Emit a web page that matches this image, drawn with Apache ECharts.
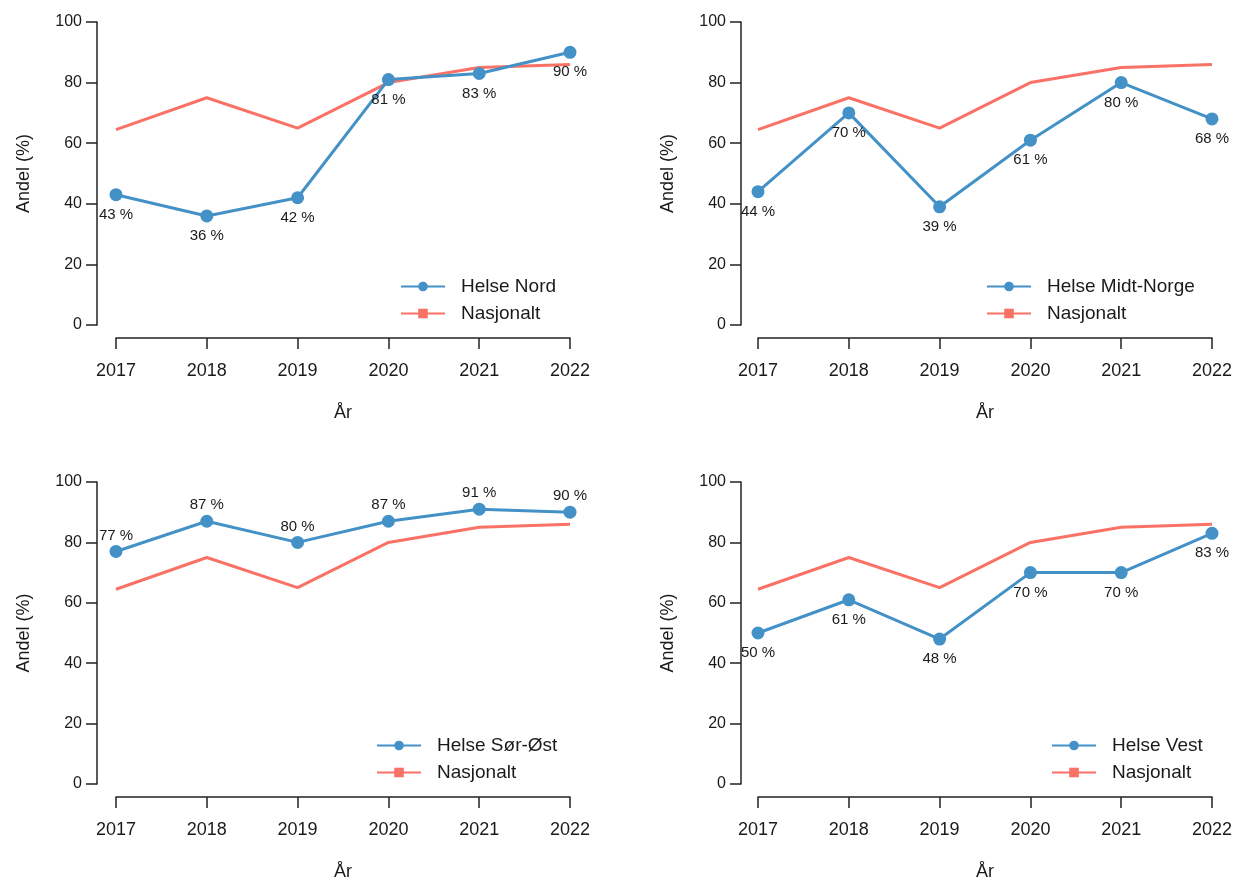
<!DOCTYPE html>
<html>
<head>
<meta charset="utf-8">
<script src="https://cdn.jsdelivr.net/npm/echarts@6/dist/echarts.min.js"></script>
<style>
html,body{margin:0;padding:0;background:#fff;}
#chart{width:1240px;height:882px;}
</style>
</head>
<body>
<div id="chart"></div>
<script>
const years = ['2017', '2018', '2019', '2020', '2021', '2022'];
const nasjonalt = [64.5, 75, 65, 80, 85, 86];
const helseNord = [43, 36, 42, 81, 83, 90];
const helseMidtNorge = [44, 70, 39, 61, 80, 68];
const helseSorOst = [77, 87, 80, 87, 91, 90];
const helseVest = [50, 61, 48, 70, 70, 83];
const regionNames = ['Helse Nord', 'Helse Midt-Norge', 'Helse Sør-Øst', 'Helse Vest'];
const regionValues = [helseNord, helseMidtNorge, helseSorOst, helseVest];
const labelPositions = ['bottom', 'bottom', 'top', 'bottom'];
const yTicks = { min: 0, max: 100, interval: 20 };

const BLUE = '#4391C7';
const RED = '#FA7166';
const FONT = "'Liberation Sans', Arial, sans-serif";
const TXT = '#1a1a1a';

const panels = [
  { left: 116, top: 22, yLeft: 97, legendLeft: 400, legendTop: 277 },
  { left: 758, top: 22, yLeft: 741, legendLeft: 986, legendTop: 277 },
  { left: 116, top: 482, yLeft: 97, legendLeft: 376, legendTop: 736 },
  { left: 758, top: 482, yLeft: 741, legendLeft: 1051, legendTop: 736 }
];

const grid = [], xAxis = [], yAxis = [], series = [], legend = [];
panels.forEach((p, i) => {
  grid.push({ left: p.left, top: p.top, width: 454, height: 303 });
  xAxis.push({
    type: 'category', gridIndex: i, data: years, boundaryGap: false,
    offset: 13,
    axisLine: { onZero: false, lineStyle: { color: '#222', width: 1.5 } },
    axisTick: { length: 11, lineStyle: { color: '#222', width: 1.5 } },
    axisLabel: { color: TXT, fontSize: 18, fontFamily: FONT, margin: 24 },
    name: 'År', nameLocation: 'middle', nameGap: 66,
    nameTextStyle: { color: TXT, fontSize: 18, fontFamily: FONT },
    splitLine: { show: false }
  });
  yAxis.push({
    type: 'value', gridIndex: i, min: yTicks.min, max: yTicks.max, interval: yTicks.interval,
    offset: p.left - p.yLeft,
    axisLine: { show: true, onZero: false, lineStyle: { color: '#222', width: 1.5 } },
    axisTick: { show: true, length: 11, lineStyle: { color: '#222', width: 1.5 } },
    axisLabel: { color: TXT, fontSize: 16, fontFamily: FONT, margin: 15 },
    name: 'Andel (%)', nameLocation: 'middle', nameGap: 64,
    nameTextStyle: { color: TXT, fontSize: 18, fontFamily: FONT },
    splitLine: { show: false }
  });
  series.push({
    name: 'Nasjonalt', type: 'line', xAxisIndex: i, yAxisIndex: i,
    data: nasjonalt, symbol: 'rect', symbolSize: 9, showSymbol: false,
    lineStyle: { color: RED, width: 3 }, itemStyle: { color: RED },
    clip: false, z: 2, animation: false
  });
  series.push({
    name: regionNames[i], type: 'line', xAxisIndex: i, yAxisIndex: i,
    data: regionValues[i], symbol: 'circle', symbolSize: 13,
    lineStyle: { color: BLUE, width: 3 }, itemStyle: { color: BLUE },
    label: {
      show: true, position: labelPositions[i],
      distance: labelPositions[i] === 'top' ? 2 : 6,
      formatter: '{c} %', color: TXT, fontSize: 15, fontFamily: FONT
    },
    clip: false, z: 3, animation: false
  });
  legend.push({
    left: p.legendLeft, top: p.legendTop, orient: 'vertical', padding: 0,
    data: [regionNames[i], 'Nasjonalt'],
    itemWidth: 44, itemHeight: 12, itemGap: 8,
    textStyle: { color: TXT, fontSize: 19, fontFamily: FONT, padding: [0, 0, 0, 11] },
    selectedMode: false
  });
});

const chart = echarts.init(document.getElementById('chart'), null, { renderer: 'canvas' });
chart.setOption({ backgroundColor: '#fff', animation: false, grid, xAxis, yAxis, series, legend });
</script>
</body>
</html>
